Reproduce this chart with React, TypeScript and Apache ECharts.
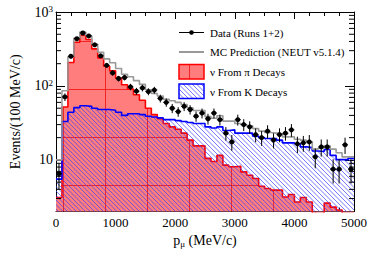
import { useEffect, useRef } from 'react';
import * as echarts from 'echarts';

// ---- data (events per 100 MeV/c bin, bins from 0 to 5000 MeV/c) ----
const BIN_WIDTH = 100;
const X_MAX = 5000;

const piDecays = [3.1, 52, 208, 390, 485, 424, 317, 240, 185, 160, 128, 104, 91, 76, 64, 50, 41, 36, 31, 28,
  26, 23, 18.5, 15.5, 15.5, 10.5, 9.5, 11.5, 8.5, 8.1, 8.2, 6.9, 6.2, 5.6, 4.4, 4.1, 3.9, 3.9, 3.15, 3.4,
  2.7, 3.1, 2.7, 0, 0, 2.6, 2.3, 2.1, 0, 0];

const kDecays = [5.5, 33, 44, 51, 54, 53, 50, 48, 48, 47, 44, 40, 42, 42, 41, 39, 38, 37, 35, 35,
  34, 33, 32, 31, 31, 28, 27, 28, 25, 25.5, 23, 23, 23, 21, 20, 19.5, 19.5, 18.5, 17, 17,
  16.5, 15, 14.7, 13.2, 13, 13.8, 11.5, 10.1, 10.1, 10.5];

const mcPrediction = [10, 86, 248, 443, 535, 478, 368, 286, 232, 206, 172, 144, 133, 118, 105, 89, 79, 73, 66, 63,
  60, 56, 50.5, 46.5, 46.5, 38.5, 36.5, 39.5, 33.5, 33.5, 31, 30, 29, 26.5, 24.5, 23.5, 23, 22.5, 20.5, 20.5,
  19, 18.5, 17.5, 14, 14.5, 15.5, 14, 12.5, 11, 11];

const dataValues = [6.5, 71, 252, 435, 520, 475, 360, 255, 190, 150, 126, 130, 97, 85, 94, 84, 88, 68, 60, 50,
  45, 53, 48, 39, 43, 36, 43, 35, 23, 17.5, 35, 30, 28, 22, 20, 24.5, 18.6, 22, 23, 25.5,
  16.5, 17, 17.5, 11, 15, 15, 7.5, 7.5, 16, 7.5];

const dataErrors = [2.5, 8.4, 15.9, 20.9, 22.8, 21.8, 19, 16, 13.8, 12.2, 11.2, 11.4, 9.8, 9.2, 9.7, 9.2, 9.4, 8.2, 7.7, 7.1,
  6.7, 7.3, 6.9, 6.2, 6.6, 6, 6.6, 5.9, 4.8, 4.2, 5.9, 5.5, 5.3, 4.7, 4.5, 4.9, 4.3, 4.7, 4.8, 5,
  4.1, 4.1, 4.2, 3.3, 3.9, 3.9, 2.7, 2.7, 4, 2.7];

const yMinorTicks = [3, 4, 5, 6, 7, 8, 9, 20, 30, 40, 50, 60, 70, 80, 90, 200, 300, 400, 500, 600, 700, 800, 900];

const Y_MIN = 2;
const Y_MAX = 1000;
const EMPTY_BIN = 0.5; // empty bins sit below the axis floor

const FONT = '"Liberation Serif", "Times New Roman", serif';

function stepData(vals: number[]) {
  const pts = vals.map((v, i) => [i * BIN_WIDTH, v > 0 ? v : EMPTY_BIN]);
  pts.push([vals.length * BIN_WIDTH, pts[pts.length - 1][1]]);
  return pts;
}

function makeRedPattern() {
  const c = document.createElement('canvas');
  c.width = 42;
  c.height = 48;
  const ctx = c.getContext('2d')!;
  ctx.fillStyle = '#ff7d7d';
  ctx.fillRect(0, 0, 42, 48);
  ctx.fillStyle = 'rgba(235,0,0,0.7)';
  ctx.fillRect(21, 0, 1, 48);
  ctx.fillRect(0, 41, 42, 1);
  return c;
}

function makeHatch() {
  const s = 9;
  const c = document.createElement('canvas');
  c.width = s;
  c.height = s;
  const ctx = c.getContext('2d')!;
  ctx.strokeStyle = '#3c3cff';
  ctx.lineWidth = 0.7;
  for (const o of [-9, -4.5, 0, 4.5, 9]) {
    ctx.beginPath();
    ctx.moveTo(o, 0);
    ctx.lineTo(o + s, s);
    ctx.stroke();
  }
  return c;
}

export default function App() {
  const ref = useRef<HTMLDivElement>(null);

  useEffect(() => {
    if (!ref.current) return;
    const chart = echarts.init(ref.current, null, { renderer: 'svg', width: 374, height: 253 });
    const redPat = { image: makeRedPattern(), repeat: 'repeat' };
    const hatchPat = { image: makeHatch(), repeat: 'repeat' };

    const axisLineStyle = { color: '#000', width: 1 };
    const xAxisBase = {
      type: 'value',
      min: 0,
      max: X_MAX,
      interval: 1000,
      axisLine: { show: true, onZero: false, lineStyle: axisLineStyle },
      axisTick: { show: true, inside: true, length: 7, lineStyle: { color: '#000' } },
      minorTick: { show: true, splitNumber: 4, length: 4, lineStyle: { color: '#000' } },
      splitLine: { show: false },
    };
    const yAxisBase = {
      type: 'log',
      logBase: 10,
      min: Y_MIN,
      max: Y_MAX,
      axisLine: { show: true, onZero: false, lineStyle: axisLineStyle },
      axisTick: { show: true, inside: true, length: 9, lineStyle: { color: '#000' } },
      minorTick: { show: false },
      splitLine: { show: false },
    };

    const option: any = {
      animation: false,
      backgroundColor: '#fff',
      grid: { left: 53, right: 20, top: 12, bottom: 41, containLabel: false },
      xAxis: [
        {
          ...xAxisBase,
          position: 'bottom',
          axisLabel: {
            color: '#000', fontFamily: FONT, fontSize: 13, margin: 4,
            formatter: (v: number) => String(Math.round(v)),
          },
          name: '{p|p}{m|μ}{p| (MeV/c)}',
          nameLocation: 'middle',
          nameGap: 20,
          nameTextStyle: {
            color: '#000',
            fontFamily: FONT,
            fontSize: 14,
            rich: {
              p: { fontFamily: FONT, fontSize: 14, color: '#000', lineHeight: 15 },
              m: { fontFamily: FONT, fontSize: 9, color: '#000', lineHeight: 9, verticalAlign: 'bottom' },
            },
          },
        },
        { ...xAxisBase, position: 'top', axisLabel: { show: false } },
      ],
      yAxis: [
        {
          ...yAxisBase,
          position: 'left',
          axisLabel: {
            margin: 3,
            formatter: (v: number) => {
              const l = Math.log10(v);
              const e = Math.round(l);
              if (Math.abs(l - e) > 1e-6) return '';
              if (e === 1) return '{b|10}';
              if (e === 2 || e === 3) return `{b|10}{s|${e}}`;
              return '';
            },
            rich: {
              b: { fontFamily: FONT, fontSize: 14, color: '#000', lineHeight: 15 },
              s: { fontFamily: FONT, fontSize: 9, color: '#000', lineHeight: 9, verticalAlign: 'top' },
            },
          },
          name: 'Events/(100 MeV/c)',
          nameLocation: 'middle',
          nameGap: 34,
          nameTextStyle: { color: '#000', fontFamily: FONT, fontSize: 14 },
        },
        { ...yAxisBase, position: 'right', axisLabel: { show: false } },
      ],
      series: [
        {
          name: 'ν From π Decays',
          type: 'line',
          step: 'end',
          xAxisIndex: 0,
          yAxisIndex: 0,
          data: stepData(piDecays),
          symbol: 'none',
          clip: true,
          lineStyle: { color: '#ff0000', width: 1.6 },
          areaStyle: { color: redPat, opacity: 1 },
          z: 2,
        },
        {
          name: 'ν From K Decays',
          type: 'line',
          step: 'end',
          xAxisIndex: 0,
          yAxisIndex: 0,
          data: stepData(kDecays),
          symbol: 'none',
          clip: true,
          lineStyle: { color: '#0000ff', width: 1.6 },
          areaStyle: { color: hatchPat, opacity: 1 },
          z: 3,
        },
        {
          name: 'MC Prediction (NEUT v5.1.4)',
          type: 'line',
          step: 'end',
          xAxisIndex: 0,
          yAxisIndex: 0,
          data: stepData(mcPrediction),
          symbol: 'none',
          clip: true,
          lineStyle: { color: '#999999', width: 1.6 },
          z: 4,
        },
        {
          name: 'Data (Runs 1+2)',
          type: 'custom',
          xAxisIndex: 0,
          yAxisIndex: 0,
          encode: { x: 0, y: 1 },
          data: dataValues.map((v, i) => [i * BIN_WIDTH + BIN_WIDTH / 2, v, dataErrors[i]]),
          renderItem: (_p: any, api: any) => {
            const x = api.value(0);
            const v = api.value(1);
            const e = api.value(2);
            const c = api.coord([x, v]);
            const hi = api.coord([x, v + e]);
            const lo = api.coord([x, v - e]);
            const l = api.coord([x - BIN_WIDTH / 2, v]);
            const r = api.coord([x + BIN_WIDTH / 2, v]);
            const st = { stroke: '#000', lineWidth: 1 };
            return {
              type: 'group',
              children: [
                { type: 'line', shape: { x1: c[0], y1: hi[1], x2: c[0], y2: lo[1] }, style: st },
                { type: 'line', shape: { x1: l[0], y1: c[1], x2: r[0], y2: c[1] }, style: st },
                { type: 'circle', shape: { cx: c[0], cy: c[1], r: 2.5 }, style: { fill: '#000' } },
              ],
            };
          },
          clip: false,
          z: 6,
        },
        {
          name: 'minorTicks',
          type: 'custom',
          xAxisIndex: 0,
          yAxisIndex: 0,
          encode: { x: 0, y: 1 },
          silent: true,
          data: yMinorTicks.map((v) => [0, v]),
          renderItem: (_p: any, api: any) => {
            const v = api.value(1);
            const a = api.coord([0, v]);
            const b = api.coord([X_MAX, v]);
            const st = { stroke: '#000', lineWidth: 1 };
            return {
              type: 'group',
              children: [
                { type: 'line', shape: { x1: a[0], y1: a[1], x2: a[0] + 5, y2: a[1] }, style: st },
                { type: 'line', shape: { x1: b[0] - 5, y1: b[1], x2: b[0], y2: b[1] }, style: st },
              ],
            };
          },
          clip: false,
          z: 7,
        },
      ],
      graphic: [
        { type: 'line', shape: { x1: 179, y1: 32.5, x2: 204, y2: 32.5 }, style: { stroke: '#000', lineWidth: 1 } },
        { type: 'circle', shape: { cx: 191.5, cy: 32.5, r: 2.3 }, style: { fill: '#000' } },
        {
          type: 'text', x: 210, y: 32.5,
          style: { text: 'Data (Runs 1+2)', fontFamily: FONT, fontSize: 11, fill: '#000', verticalAlign: 'middle' },
        },
        { type: 'line', shape: { x1: 179, y1: 52, x2: 204, y2: 52 }, style: { stroke: '#999', lineWidth: 2 } },
        {
          type: 'text', x: 210, y: 52,
          style: { text: 'MC Prediction (NEUT v5.1.4)', fontFamily: FONT, fontSize: 11, fill: '#000', verticalAlign: 'middle' },
        },
        {
          type: 'rect', shape: { x: 179, y: 64.5, width: 25, height: 14.5 },
          style: { fill: redPat, stroke: '#ff0000', lineWidth: 1.5 },
        },
        {
          type: 'text', x: 210, y: 72,
          style: { text: 'ν From π Decays', fontFamily: FONT, fontSize: 11, fill: '#000', verticalAlign: 'middle' },
        },
        {
          type: 'rect', shape: { x: 179, y: 84, width: 25, height: 14.5 },
          style: { fill: hatchPat, stroke: '#0000ff', lineWidth: 1.5 },
        },
        {
          type: 'text', x: 210, y: 91.5,
          style: { text: 'ν From K Decays', fontFamily: FONT, fontSize: 11, fill: '#000', verticalAlign: 'middle' },
        },
      ],
    };

    chart.setOption(option);
    return () => chart.dispose();
  }, []);

  return (
    <div
      ref={ref}
      style={{ position: 'absolute', left: 0, top: 0, width: 374, height: 253, background: '#fff' }}
    />
  );
}
